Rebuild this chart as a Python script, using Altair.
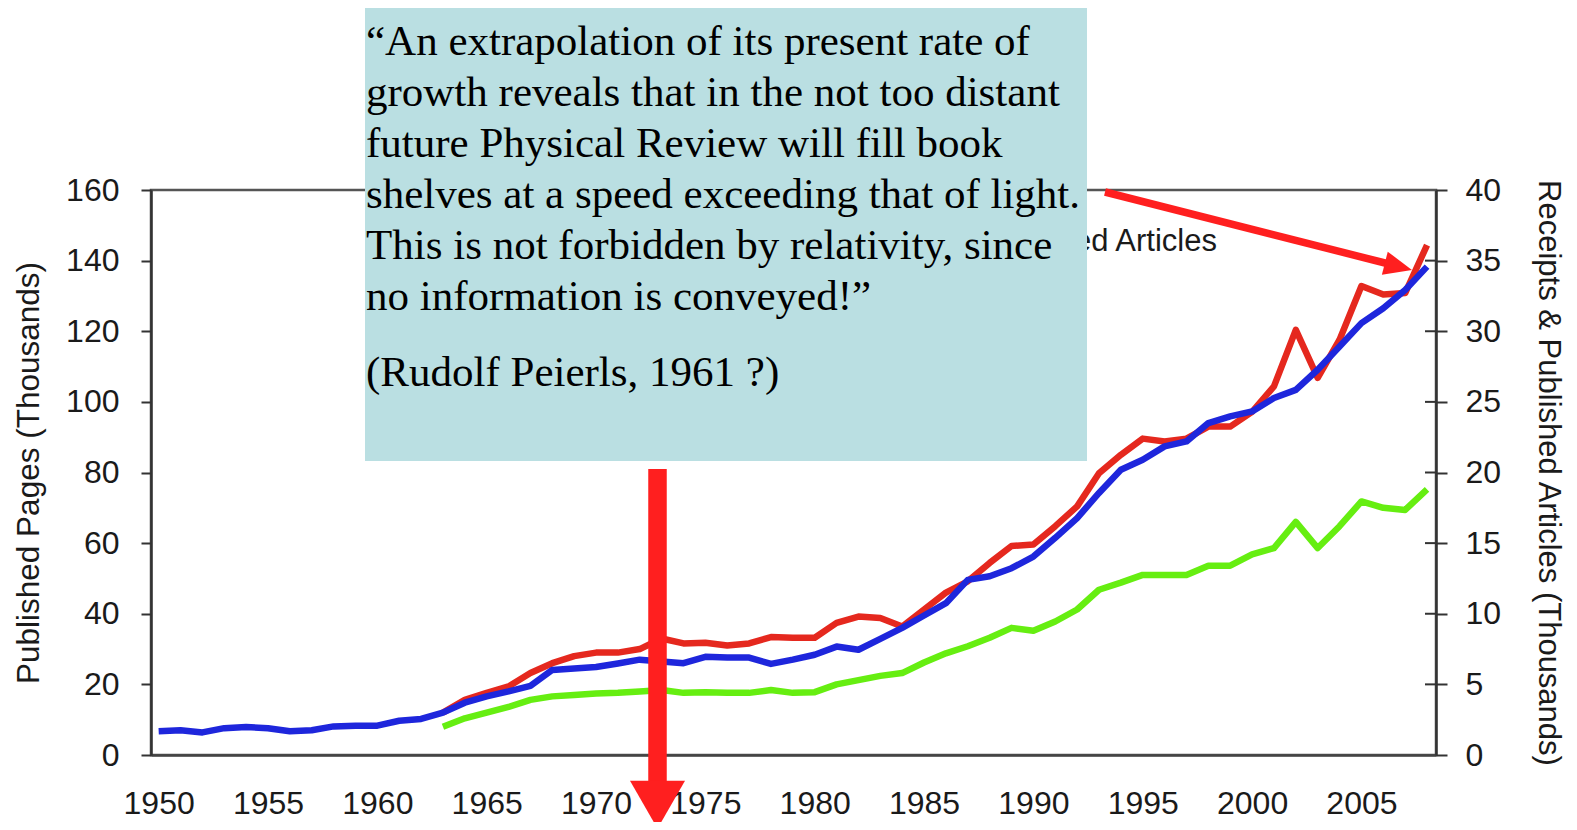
import altair as alt
import pandas as pd

# ---------------- data ----------------
years_pages = list(range(1950, 2009))
published_pages = [6.7, 7.0, 6.4, 7.6, 7.9, 7.6, 6.7, 7.0, 8.1, 8.3,
                   8.3, 9.7, 10.2, 12.0, 14.8, 16.6, 18.0, 19.6, 24.1, 24.5,
                   24.9, 25.9, 27.0, 26.5, 26.0, 27.8, 27.6, 27.6, 25.8, 27.0,
                   28.4, 30.7, 29.8, 32.9, 36.0, 39.5, 43.0, 49.6, 50.6, 52.9,
                   56.2, 61.5, 67.1, 74.2, 80.8, 83.6, 87.4, 88.8, 94.0, 95.9,
                   97.3, 101.1, 103.4, 109.1, 115.7, 122.3, 126.5, 131.7, 138.3]

years_articles = list(range(1963, 2009))
receipts = [3.0, 3.9, 4.4, 4.85, 5.8, 6.5, 7.0, 7.25, 7.25, 7.5,
            8.25, 7.9, 7.95, 7.75, 7.9, 8.35, 8.3, 8.3, 9.35, 9.8,
            9.7, 9.1, 10.3, 11.5, 12.3, 13.6, 14.8, 14.9, 16.2, 17.6,
            19.95, 21.25, 22.4, 22.2, 22.4, 23.25, 23.25, 24.3, 26.1, 30.1,
            26.7, 29.4, 33.2, 32.6, 32.7, 36.1]
published_articles = [2.0, 2.6, 3.0, 3.4, 3.9, 4.15, 4.25, 4.35, 4.4, 4.5,
                      4.6, 4.4, 4.45, 4.4, 4.4, 4.6, 4.4, 4.45, 5.0, 5.3,
                      5.6, 5.8, 6.55, 7.2, 7.7, 8.3, 9.0, 8.8, 9.45, 10.3,
                      11.7, 12.2, 12.75, 12.75, 12.75, 13.4, 13.4, 14.2, 14.65, 16.5,
                      14.65, 16.2, 17.95, 17.5, 17.35, 18.8]

x_ticks = [1950, 1955, 1960, 1965, 1970, 1975, 1980, 1985, 1990, 1995, 2000, 2005]
left_ticks = [0, 20, 40, 60, 80, 100, 120, 140, 160]
right_ticks = [0, 5, 10, 15, 20, 25, 30, 35, 40]
right_inner_ticks = [5, 10, 15, 20, 25, 30, 35]

quote_lines = ["\u201cAn extrapolation of its present rate of",
               "growth reveals that in the not too distant",
               "future Physical Review will fill book",
               "shelves at a speed exceeding that of light.",
               "This is not forbidden by relativity, since",
               "no information is conveyed!\u201d"]
attribution = "(Rudolf Peierls, 1961 ?)"
legend_label = "Published Articles"

# ---------------- styling ----------------
W, H = 1285, 565
BLUE, RED, GREEN = "#1E26DC", "#E5281E", "#66EE11"
ARROW = "#FF1F1F"
BOX = "#BADFE2"
AX = "#333333"
TXT = "#1a1a1a"
SANS = "Liberation Sans"
SERIF = "Liberation Serif"

df_pages = pd.DataFrame({"year": years_pages, "value": published_pages})
df_rec = pd.DataFrame({"year": years_articles, "value": receipts})
df_pub = pd.DataFrame({"year": years_articles, "value": published_articles})
df_ticks = pd.DataFrame({"v": right_inner_ticks})
one = alt.Data(values=[{"k": 0}])

x_enc = alt.X("year:Q",
              scale=alt.Scale(domain=[1949.65, 2008.41], nice=False, zero=False),
              axis=alt.Axis(values=x_ticks, format="d", ticks=False, labelPadding=33,
                            labelFontSize=32, labelColor=TXT, domainColor="#444",
                            domainWidth=2.5, grid=False, title=None, labelFont=SANS))

left_axis = alt.Axis(orient="left", values=left_ticks, grid=False,
                     title="Published Pages (Thousands)", titleFontSize=31.5,
                     titleFontWeight="normal", titleColor=TXT, titlePadding=20,
                     labelFontSize=32, labelColor=TXT, tickSize=10, tickWidth=2,
                     tickColor=AX, labelPadding=22, domainColor=AX, domainWidth=2.5)
right_axis = alt.Axis(orient="right", values=right_ticks, grid=False,
                      title="Receipts & Published Articles (Thousands)", titleFontSize=31,
                      titleFontWeight="normal", titleColor=TXT, titlePadding=31,
                      labelFontSize=32, labelColor=TXT, tickSize=11, tickWidth=2,
                      tickColor=AX, labelPadding=18, domainColor=AX, domainWidth=2.5)

right_scale = alt.Scale(domain=[0, 40], nice=False, zero=True)

red_line = alt.Chart(df_rec).mark_line(color=RED, strokeWidth=6.5, strokeJoin="round").encode(
    x=x_enc, y=alt.Y("value:Q", scale=right_scale, axis=right_axis))
green_line = alt.Chart(df_pub).mark_line(color=GREEN, strokeWidth=6.5, strokeJoin="round").encode(
    x=x_enc, y=alt.Y("value:Q", scale=right_scale, axis=None))
inner_ticks = alt.Chart(df_ticks).mark_rule(color=AX, strokeWidth=2).encode(
    y=alt.Y("v:Q", scale=right_scale, axis=None),
    x=alt.value(W - 11), x2=alt.value(W))
blue_line = alt.Chart(df_pages).mark_line(color=BLUE, strokeWidth=6.5, strokeJoin="round").encode(
    x=x_enc,
    y=alt.Y("value:Q", scale=alt.Scale(domain=[0, 160], nice=False), axis=left_axis))

legend_txt = alt.Chart(one).mark_text(text=legend_label, font=SANS, fontSize=31, color=TXT,
                                      align="right", baseline="alphabetic").encode(
    x=alt.value(1066), y=alt.value(61))

box = alt.Chart(one).mark_rect(color=BOX, opacity=1).encode(
    x=alt.value(214), x2=alt.value(936), y=alt.value(-183), y2=alt.value(271))

quote = alt.Chart(one).mark_text(text=quote_lines, font=SERIF, fontSize=43, lineHeight=51,
                                 color="#000", align="left", baseline="alphabetic").encode(
    x=alt.value(215), y=alt.value(-135))
attrib = alt.Chart(one).mark_text(text=attribution, font=SERIF, fontSize=43, color="#000",
                                  align="left", baseline="alphabetic").encode(
    x=alt.value(215), y=alt.value(196))

diag_shaft = alt.Chart(one).mark_rule(color=ARROW, strokeWidth=7.5).encode(
    x=alt.value(954), y=alt.value(2), x2=alt.value(1238), y2=alt.value(74))
diag_head = alt.Chart(one).mark_point(shape="M1,0L-1,-0.85L-1,0.85Z", filled=True, size=784,
                                      angle=14.2, color=ARROW, opacity=1, strokeWidth=0).encode(
    x=alt.value(1247.4), y=alt.value(76.6))

vert_shaft = alt.Chart(one).mark_rule(color=ARROW, strokeWidth=18.5).encode(
    x=alt.value(506.5), y=alt.value(279), x2=alt.value(506.5), y2=alt.value(594))
vert_head = alt.Chart(one).mark_point(shape="M-1,-0.87L1,-0.87L0,0.87Z", filled=True, size=3025,
                                      color=ARROW, opacity=1, strokeWidth=0).encode(
    x=alt.value(506.5), y=alt.value(614.7))

chart = alt.layer(
    red_line, green_line, inner_ticks, blue_line, legend_txt, box, quote, attrib,
    diag_shaft, diag_head, vert_shaft, vert_head
).resolve_scale(y="independent").properties(
    width=W, height=H,
    padding={"left": 143, "top": 182, "right": 133, "bottom": 67},
    autosize="none",
    background="white",
).configure(font=SANS).configure_view(stroke="#555", strokeWidth=2.5)

chart.save("out.html", embed_options={"renderer": "svg", "actions": False})
